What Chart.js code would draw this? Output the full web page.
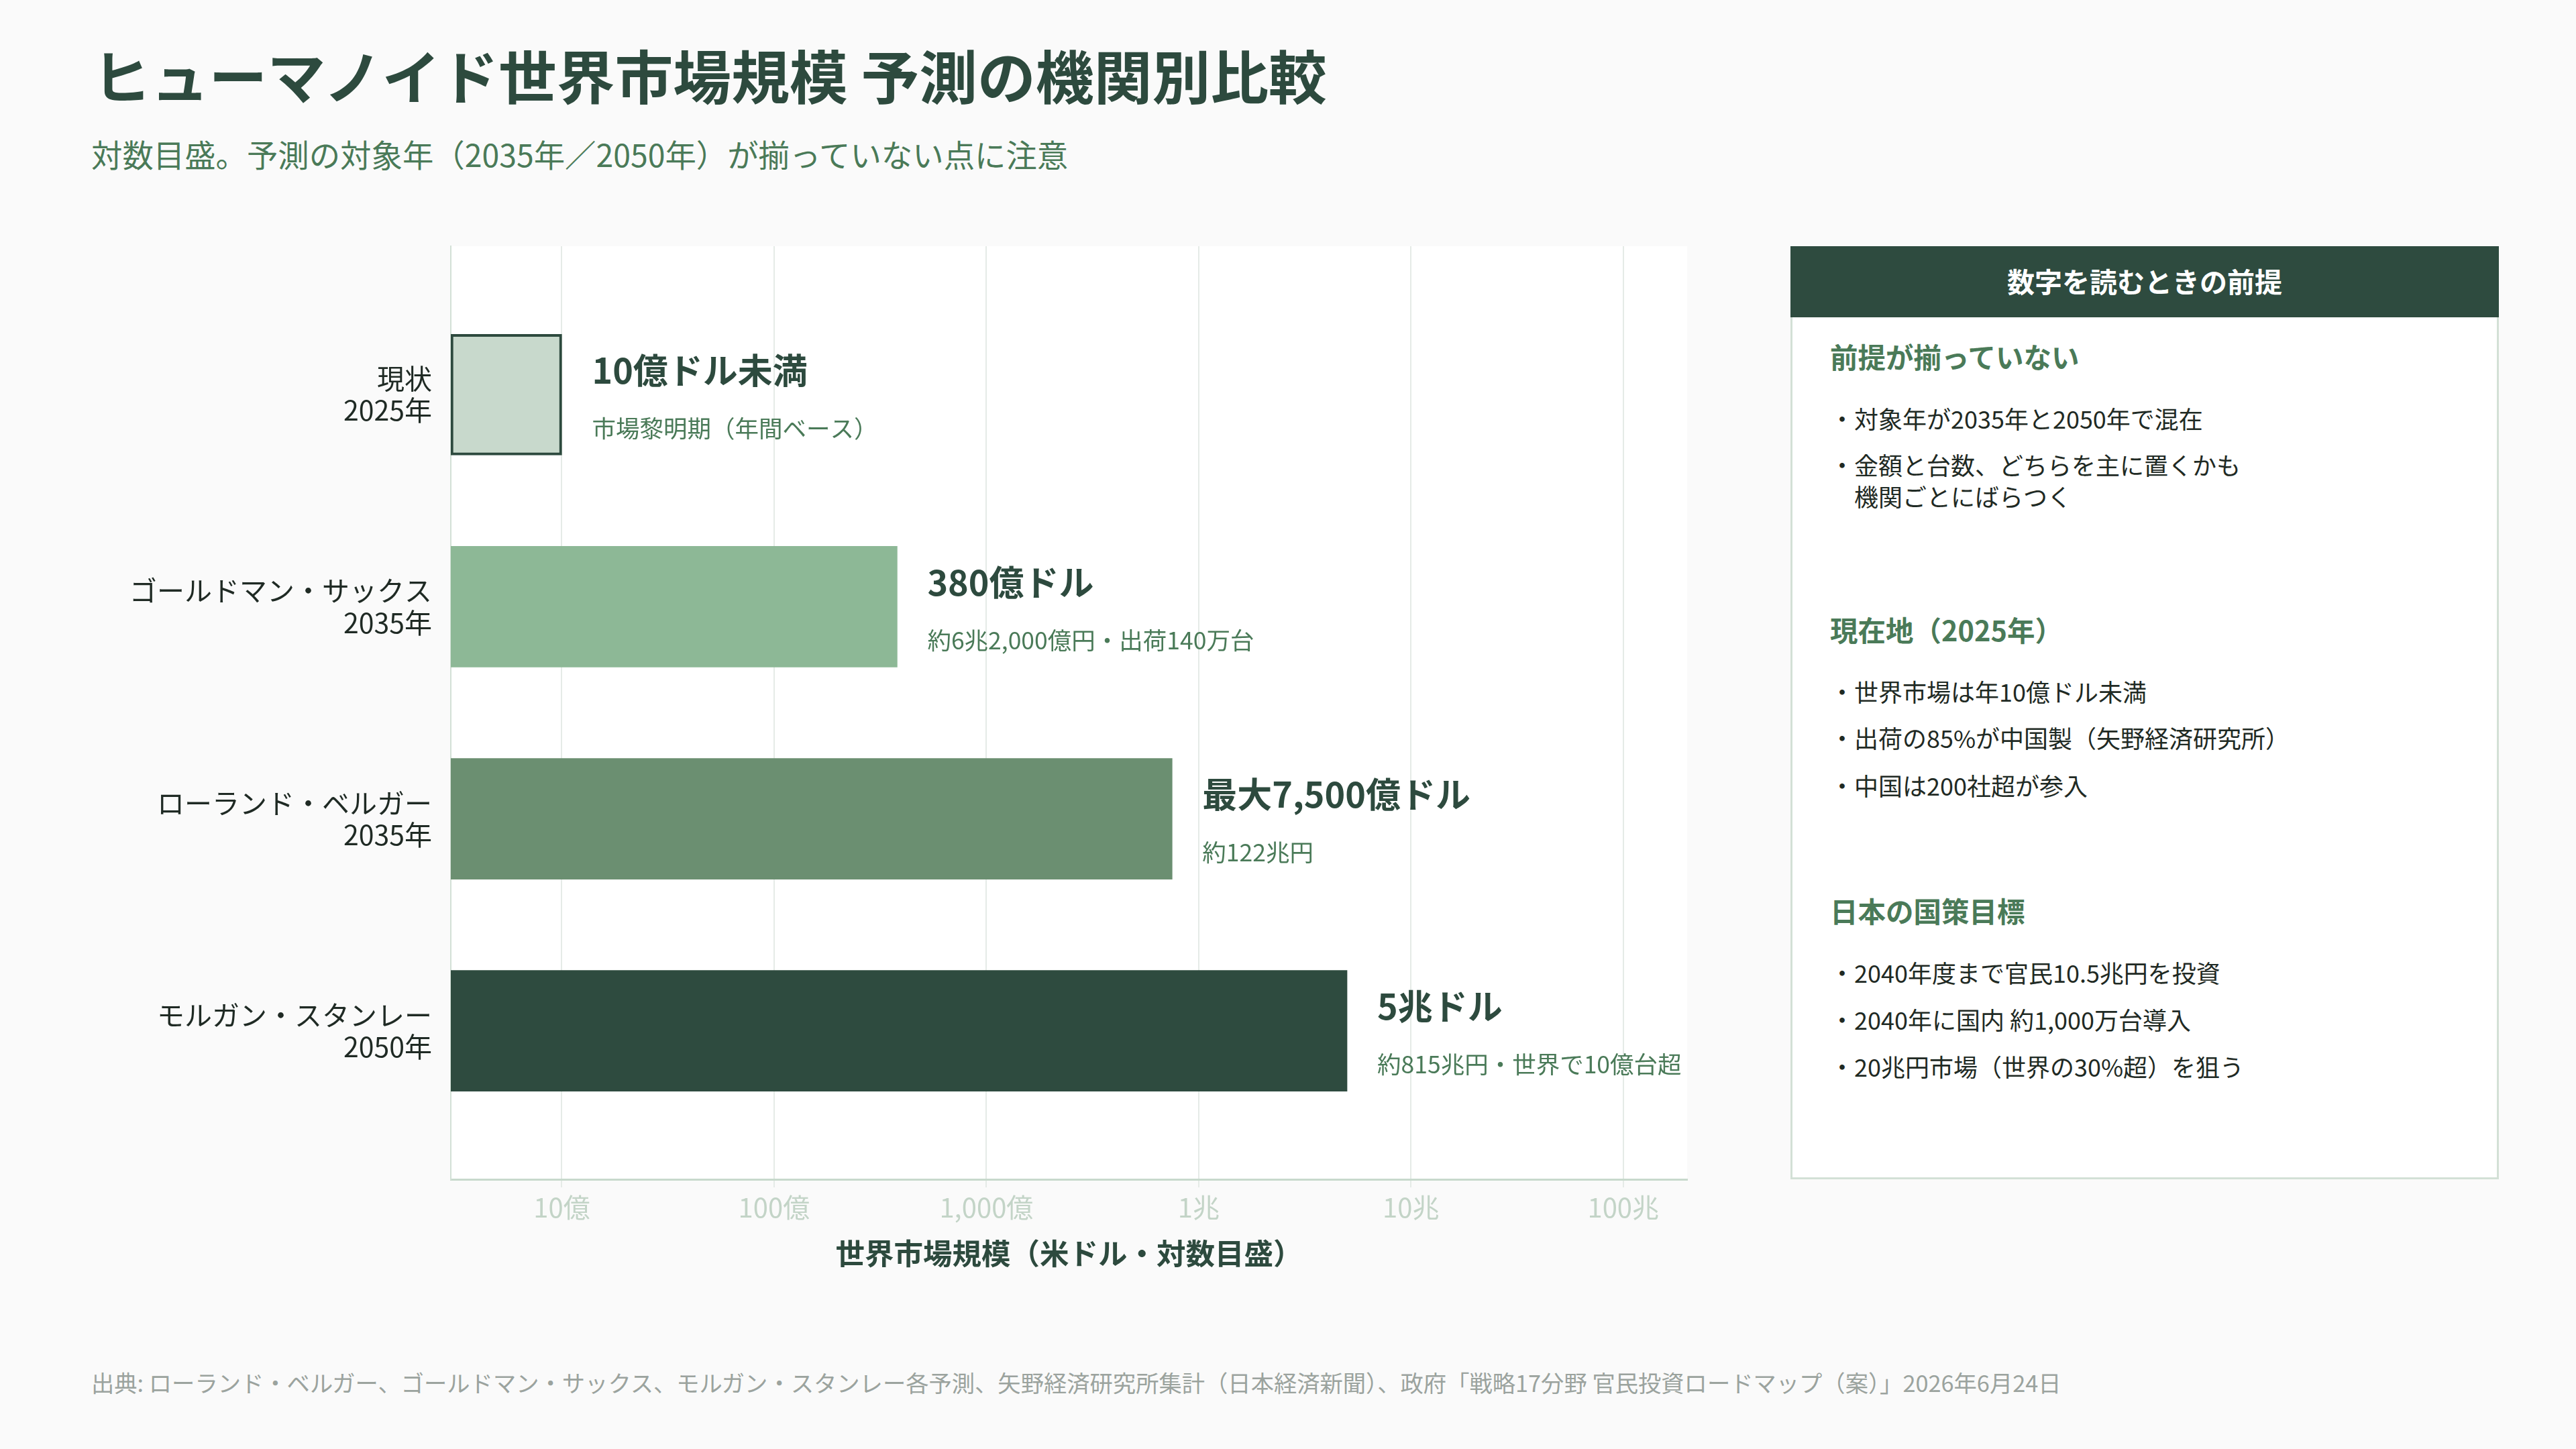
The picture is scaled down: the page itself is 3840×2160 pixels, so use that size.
<!DOCTYPE html>
<html lang="ja">
<head>
<meta charset="utf-8">
<title>ヒューマノイド世界市場規模 予測の機関別比較</title>
<script src="https://cdn.jsdelivr.net/npm/chart.js@4.4.1/dist/chart.umd.min.js"></script>
<style>
    html, body { margin: 0; padding: 0; }
    body {
        width: 3840px;
        height: 2160px;
        background: #fafafa;
        position: relative;
        overflow: hidden;
        font-family: "Noto Sans CJK JP", sans-serif;
    }
    .title {
        position: absolute; left: 138px; top: 58px;
        font-size: 86.8px; line-height: 104px; font-weight: 700; color: #2d4a3e;
        white-space: nowrap;
    }
    .subtitle {
        position: absolute; left: 136px; top: 202px;
        font-size: 46.4px; line-height: 54px; color: #4a7a58;
        white-space: nowrap;
    }
    .chart-wrap { position: absolute; left: 140px; top: 340px; width: 2400px; height: 1600px; }
    .panel {
        position: absolute; left: 2669px; top: 367px; width: 1056px; height: 1391px;
        box-sizing: border-box; background: #fff; border: 3px solid #d3e0d6;
    }
    .panel__head {
        position: absolute; left: -3px; top: -3px; width: 1056px; height: 106px;
        background: #2e4b3f; color: #fff; font-weight: 700; font-size: 41px;
        line-height: 102px; text-align: center;
    }
    .panel__h {
        position: absolute; left: 56px; font-size: 41.5px; line-height: 48px;
        font-weight: 700; color: #4a7a58; white-space: nowrap;
    }
    .panel__item {
        position: absolute; left: 56px; font-size: 36px; line-height: 47px;
        color: #1f2a24; padding-left: 36px; text-indent: -36px; white-space: nowrap;
    }
    .source {
        position: absolute; left: 136px; top: 2039px;
        font-size: 34.3px; line-height: 42px; color: #9ba39e; white-space: nowrap;
    }
</style>
</head>
<body>
<div class="title">ヒューマノイド世界市場規模 予測の機関別比較</div>
<div class="subtitle">対数目盛。予測の対象年（2035年／2050年）が揃っていない点に注意</div>

<div class="chart-wrap"><canvas id="market-chart" width="2400" height="1600"></canvas></div>

<div class="panel">
    <div class="panel__head">数字を読むときの前提</div>

    <div class="panel__h" style="top:137px">前提が揃っていない</div>
    <div class="panel__item" style="top:230px">・対象年が2035年と2050年で混在</div>
    <div class="panel__item" style="top:299px">・金額と台数、どちらを主に置くかも<br>機関ごとにばらつく</div>

    <div class="panel__h" style="top:544px">現在地（2025年）</div>
    <div class="panel__item" style="top:637px">・世界市場は年10億ドル未満</div>
    <div class="panel__item" style="top:706px">・出荷の85%が中国製（矢野経済研究所）</div>
    <div class="panel__item" style="top:777px">・中国は200社超が参入</div>

    <div class="panel__h" style="top:963px">日本の国策目標</div>
    <div class="panel__item" style="top:1056px">・2040年度まで官民10.5兆円を投資</div>
    <div class="panel__item" style="top:1126px">・2040年に国内 約1,000万台導入</div>
    <div class="panel__item" style="top:1196px">・20兆円市場（世界の30%超）を狙う</div>
</div>

<div class="source">出典: ローランド・ベルガー、ゴールドマン・サックス、モルガン・スタンレー各予測、矢野経済研究所集計（日本経済新聞）、政府「戦略17分野 官民投資ロードマップ（案）」2026年6月24日</div>

<script>
// data
const institutions = ["現状", "ゴールドマン・サックス", "ローランド・ベルガー", "モルガン・スタンレー"];
const targetYears = ["2025年", "2035年", "2035年", "2050年"];
const marketSizeUsd = [1e9, 3.8e10, 7.5e11, 5e12];
const valueLabels = ["10億ドル未満", "380億ドル", "最大7,500億ドル", "5兆ドル"];
const noteLabels = ["市場黎明期（年間ベース）", "約6兆2,000億円・出荷140万台", "約122兆円", "約815兆円・世界で10億台超"];
const tickValues = [1e9, 1e10, 1e11, 1e12, 1e13, 1e14];
const tickLabels = ["10億", "100億", "1,000億", "1兆", "10兆", "100兆"];

// styles
const barColors = ["#c8d9cc", "#8db896", "#6b8f71", "#2e4b3f"];
const barBorders = [4, 0, 0, 0];
const FONT = "'Noto Sans CJK JP', sans-serif";

Chart.defaults.font.family = FONT;

//plot background
const plotBackground = {
    id: "plotBackground",
    beforeDraw(chart) {
        const { ctx, chartArea: a } = chart;
        ctx.save();
        ctx.fillStyle = "#ffffff";
        ctx.fillRect(a.left, a.top, a.right - a.left, a.bottom - a.top);
        ctx.restore();
    },
};

//labels next to the bars
const barLabels = {
    id: "barLabels",
    afterDatasetsDraw(chart) {
        const ctx = chart.ctx;
        chart.getDatasetMeta(0).data.forEach((bar, i) => {
            const x = bar.x + 45;
            ctx.save();
            ctx.textAlign = "left";
            ctx.textBaseline = "middle";
            ctx.font = "bold 52px " + FONT;
            ctx.fillStyle = "#2d4a3e";
            ctx.fillText(valueLabels[i], x, bar.y - 36);
            ctx.font = "35.5px " + FONT;
            ctx.fillStyle = "#4a7a58";
            ctx.fillText(noteLabels[i], x, bar.y + 50);
            ctx.restore();
        });
    },
};

new Chart(document.getElementById("market-chart"), {
    type: "bar",
    data: {
        datasets: [{
            data: marketSizeUsd.map((v, i) => ({ x: v, y: i })),
            backgroundColor: barColors,
            borderColor: "#2d4a3e",
            borderWidth: barBorders,
            borderSkipped: false,
            barThickness: 180,
        }],
    },
    options: {
        indexAxis: "y",
        responsive: false,
        animation: false,
        devicePixelRatio: 1,
        layout: { padding: { top: 27, right: 25, left: 0, bottom: 0 } },
        plugins: {
            legend: { display: false },
            tooltip: { enabled: false },
        },
        scales: {
            x: {
                type: "logarithmic",
                min: 3e8,
                max: 2e14,
                afterBuildTicks: (s) => { s.ticks = tickValues.map((v) => ({ value: v })); },
                afterFit: (s) => { s.height = 182; s.paddingLeft = 0; s.paddingRight = 0; },
                grid: { color: "#e5ebe7", lineWidth: 2, tickLength: 12 },
                border: { color: "#c8d9cc", width: 3 },
                ticks: {
                    callback: (v) => tickLabels[tickValues.indexOf(v)],
                    color: "#c3d4c7",
                    font: { size: 40 },
                    padding: 6,
                    maxRotation: 0,
                    autoSkip: false,
                },
                title: {
                    display: true,
                    text: "世界市場規模（米ドル・対数目盛）",
                    color: "#2d4a3e",
                    font: { size: 43.5, weight: "bold" },
                    padding: { top: 0, bottom: 45 },
                },
            },
            y: {
                type: "linear",
                reverse: true,
                offset: false,
                bounds: "data",
                min: -0.7,
                max: 3.7,
                afterBuildTicks: (s) => {
                    s.ticks = institutions.map((_, i) => ({ value: i }));
                    s.min = -0.7;
                    s.max = 3.7;
                },
                afterFit: (s) => { s.width = 532; s.paddingTop = 0; s.paddingBottom = 0; },
                grid: { display: false, drawTicks: false, offset: false },
                border: { color: "#d3e0d6", width: 2 },
                ticks: {
                    callback: (v) => [institutions[v], targetYears[v]],
                    color: "#1f2a24",
                    font: { size: 41, lineHeight: 1.15 },
                    padding: 28,
                    autoSkip: false,
                },
            },
        },
    },
    plugins: [plotBackground, barLabels],
});
</script>
</body>
</html>
